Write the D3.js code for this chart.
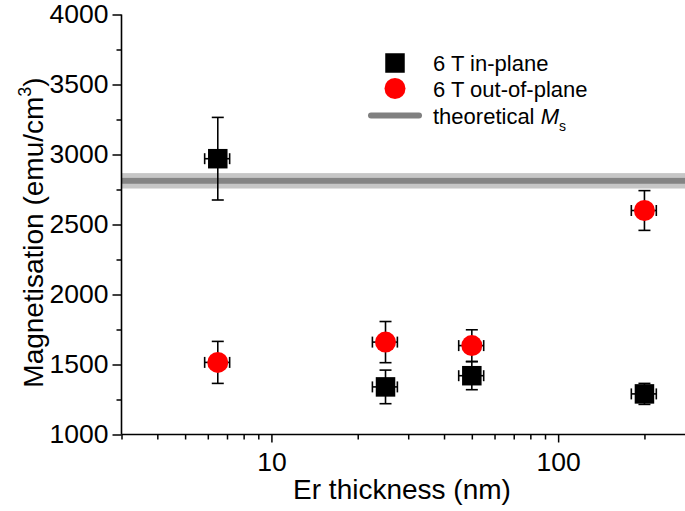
<!DOCTYPE html>
<html>
<head>
<meta charset="utf-8">
<script src="https://cdn.jsdelivr.net/npm/d3@7"></script>
<style>
  html, body { margin: 0; padding: 0; background: #fff; }
  svg { display: block; }
  text { font-family: "Liberation Sans", Arial, Helvetica, sans-serif; fill: #000; }
</style>
</head>
<body>
<svg id="chart" width="685" height="511"></svg>
<script>
// Er layer thickness (nm) and its uncertainty
const thickness = [6.5, 25, 50, 200];
const thicknessErr = [0.65, 2.5, 5, 20];

// Magnetisation at 6 T (emu/cm^3)
const inPlane = [2970, 1340, 1420, 1290];
const inPlaneErr = [295, 120, 100, 75];
const outOfPlane = [1515, 1660, 1635, 2600];
const outOfPlaneErr = [150, 147, 113, 142];

// Theoretical saturation magnetisation with its uncertainty band
const msTheory = 2812;
const msBand = 55;
const msCore = 21;

// Axis ticks
const xMajorTicks = [10, 100];
const xMinorTicks = [3, 4, 5, 6, 7, 8, 9, 20, 30, 40, 50, 60, 70, 80, 90, 200];
const yMajorTicks = [1000, 1500, 2000, 2500, 3000, 3500, 4000];
const yMinorTicks = [1250, 1750, 2250, 2750, 3250, 3750];

const legendLabels = ["6 T in-plane", "6 T out-of-plane", "theoretical "];

const svg = d3.select("#chart");
const plotL = 121.5, plotR = 685, plotT = 14.5, plotB = 434.5;

const x = d3.scaleLog().domain([3, 277]).range([plotL, plotR]);
const y = d3.scaleLinear().domain([1000, 4000]).range([plotB, plotT]);

const fontTick = 26.5;
const fontTitle = 28;
const fontLegend = 22;

// Theoretical Ms band
svg.append("rect")
  .attr("x", plotL).attr("width", plotR - plotL)
  .attr("y", y(msTheory + msBand)).attr("height", y(msTheory - msBand) - y(msTheory + msBand))
  .attr("fill", "#c6c6c6");
svg.append("rect")
  .attr("x", plotL).attr("width", plotR - plotL)
  .attr("y", y(msTheory + msCore)).attr("height", y(msTheory - msCore) - y(msTheory + msCore))
  .attr("fill", "#848484");

// Axes
const gx = svg.append("g").attr("transform", `translate(0,${plotB})`);
const gxMinor = gx.append("g").call(d3.axisBottom(x).tickValues(xMinorTicks).tickSize(5).tickFormat(""));
const gxMajor = gx.append("g").call(d3.axisBottom(x).tickValues(xMajorTicks).tickSize(8).tickPadding(9.5).tickFormat(d3.format("d")));

const gy = svg.append("g").attr("transform", `translate(${plotL},0)`);
const gyMinor = gy.append("g").call(d3.axisLeft(y).tickValues(yMinorTicks).tickSize(5).tickFormat(""));
const gyMajor = gy.append("g").call(d3.axisLeft(y).tickValues(yMajorTicks).tickSize(9).tickPadding(4).tickFormat(d3.format("d")));

[gxMinor, gyMinor].forEach((g) => g.select(".domain").remove());
gxMajor.select(".domain").attr("d", `M${plotL},0H${plotR}`);
gyMajor.select(".domain").attr("d", `M0,${plotB}V${plotT}`);

svg.selectAll(".domain").attr("stroke", "#000").attr("stroke-width", 1.6);
svg.selectAll(".tick line").attr("stroke", "#000").attr("stroke-width", 1.5);
svg.selectAll(".tick text").attr("font-size", fontTick)
  .attr("font-family", "Liberation Sans, Arial, sans-serif").attr("fill", "#000");

// Error bars
function errorBars(vals, errs) {
  const g = svg.append("g").attr("stroke", "#000").attr("stroke-width", 1.6).attr("fill", "none");
  thickness.forEach((t, i) => {
    const cx = x(t), cy = y(vals[i]);
    const y0 = y(vals[i] - errs[i]), y1 = y(vals[i] + errs[i]);
    const x0 = x(t - thicknessErr[i]), x1 = x(t + thicknessErr[i]);
    g.append("line").attr("x1", cx).attr("x2", cx).attr("y1", y0).attr("y2", y1);
    g.append("line").attr("x1", cx - 6).attr("x2", cx + 6).attr("y1", y0).attr("y2", y0);
    g.append("line").attr("x1", cx - 6).attr("x2", cx + 6).attr("y1", y1).attr("y2", y1);
    g.append("line").attr("x1", x0).attr("x2", x1).attr("y1", cy).attr("y2", cy);
    g.append("line").attr("x1", x0).attr("x2", x0).attr("y1", cy - 5.5).attr("y2", cy + 5.5);
    g.append("line").attr("x1", x1).attr("x2", x1).attr("y1", cy - 5.5).attr("y2", cy + 5.5);
  });
}
errorBars(inPlane, inPlaneErr);
errorBars(outOfPlane, outOfPlaneErr);

const sq = 19.5, rad = 10.5;
svg.append("g").selectAll("rect").data(thickness).join("rect")
  .attr("x", (d) => x(d) - sq / 2)
  .attr("y", (d, i) => y(inPlane[i]) - sq / 2)
  .attr("width", sq).attr("height", sq).attr("fill", "#000");
svg.append("g").selectAll("circle").data(thickness).join("circle")
  .attr("cx", (d) => x(d))
  .attr("cy", (d, i) => y(outOfPlane[i]))
  .attr("r", rad).attr("fill", "#ff0000");

// Legend
const lg = svg.append("g");
lg.append("rect").attr("x", 395 - sq / 2).attr("y", 63 - sq / 2).attr("width", sq).attr("height", sq).attr("fill", "#000");
lg.append("circle").attr("cx", 395).attr("cy", 88.5).attr("r", rad).attr("fill", "#ff0000");
lg.append("line").attr("x1", 371).attr("x2", 419).attr("y1", 115.5).attr("y2", 115.5)
  .attr("stroke", "#808080").attr("stroke-width", 6).attr("stroke-linecap", "round");
const legendY = [71, 97, 123.5];
legendLabels.forEach((lab, i) => {
  const t = lg.append("text").attr("x", 433).attr("y", legendY[i]).attr("font-size", fontLegend).text(lab);
  if (i === 2) {
    t.append("tspan").attr("font-style", "italic").text("M");
    t.append("tspan").attr("font-size", 14).attr("dy", 7).text("s");
  }
});

// Axis titles
svg.append("text")
  .attr("x", 402).attr("y", 499)
  .attr("text-anchor", "middle").attr("font-size", fontTitle)
  .text("Er thickness (nm)");

const yt = svg.append("text")
  .attr("transform", `translate(43,${(plotT + plotB) / 2 + 8}) rotate(-90)`)
  .attr("text-anchor", "middle").attr("font-size", fontTitle);
yt.append("tspan").text("Magnetisation (emu/cm");
yt.append("tspan").attr("font-size", 18).attr("dy", -12).text("3");
yt.append("tspan").attr("dy", 12).text(")");
</script>
</body>
</html>
